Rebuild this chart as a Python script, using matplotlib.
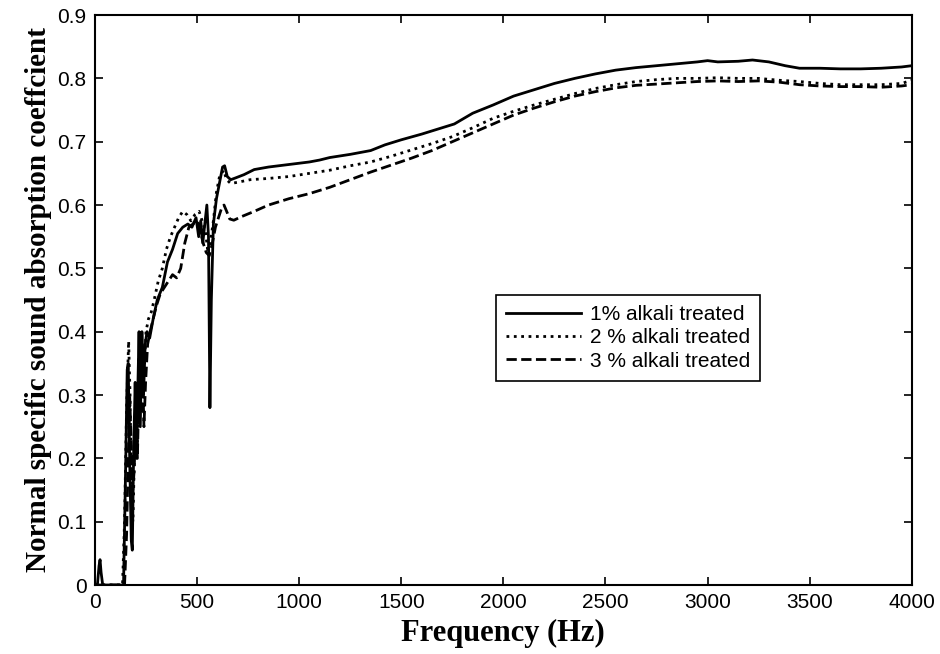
import matplotlib
matplotlib.use('Agg')

import numpy as np
import matplotlib.pyplot as plt

################# Data ####################################################
freq_1 = [0, 12, 20, 25, 30, 38, 140, 150, 158, 163, 170, 178, 183, 190, 197,
          204, 210, 216, 222, 230, 238, 246, 255, 268, 285, 305, 330, 355, 380,
          405, 430, 455, 475, 495, 508, 518, 528, 538, 548, 556, 563, 570, 580,
          595, 610, 625, 635, 648, 665, 690, 730, 780, 850, 900, 950, 1050,
          1100, 1150, 1250, 1350, 1420, 1500, 1600, 1700, 1760, 1850, 1950,
          2050, 2150, 2250, 2350, 2450, 2550, 2650, 2750, 2850, 2950, 3000,
          3050, 3150, 3220, 3300, 3380, 3450, 3550, 3650, 3750, 3850, 3950,
          4000]
alpha_1 = [0, 0, 0.03, 0.04, 0.02, 0, 0, 0.18, 0.34, 0.35, 0.20, 0.07, 0.055,
           0.22, 0.32, 0.20, 0.31, 0.40, 0.25, 0.40, 0.30, 0.38, 0.40, 0.39,
           0.42, 0.45, 0.47, 0.51, 0.53, 0.555, 0.565, 0.57, 0.565, 0.58, 0.55,
           0.575, 0.54, 0.57, 0.60, 0.55, 0.28, 0.45, 0.57, 0.61, 0.635, 0.66,
           0.662, 0.645, 0.64, 0.643, 0.648, 0.656, 0.66, 0.662, 0.664, 0.668,
           0.671, 0.675, 0.68, 0.686, 0.695, 0.703, 0.712, 0.722, 0.728, 0.745,
           0.758, 0.772, 0.782, 0.792, 0.80, 0.807, 0.813, 0.817, 0.82, 0.823,
           0.826, 0.828, 0.826, 0.827, 0.829, 0.826, 0.82, 0.816, 0.816,
           0.815, 0.815, 0.816, 0.818, 0.82]

freq_2 = [0, 135, 145, 155, 165, 172, 180, 186, 193, 200, 208, 215, 222, 230,
          240, 250, 262, 275, 290, 310, 330, 350, 370, 390, 410, 430, 450, 470,
          490, 510, 525, 540, 552, 565, 580, 595, 610, 630, 645, 665, 700, 760,
          850, 950, 1050, 1150, 1250, 1350, 1450, 1550, 1650, 1750, 1850, 1950,
          2050, 2150, 2250, 2350, 2450, 2550, 2650, 2750, 2850, 2950, 3050,
          3150, 3250, 3350, 3450, 3550, 3650, 3750, 3850, 3950, 4000]
alpha_2 = [0, 0, 0.10, 0.28, 0.385, 0.30, 0.12, 0.10, 0.20, 0.30, 0.22, 0.36,
           0.28, 0.38, 0.33, 0.40, 0.42, 0.43, 0.45, 0.48, 0.50, 0.53, 0.55,
           0.565, 0.58, 0.59, 0.585, 0.575, 0.585, 0.59, 0.575, 0.56, 0.53,
           0.54, 0.575, 0.62, 0.645, 0.655, 0.64, 0.634, 0.636, 0.64, 0.642,
           0.645, 0.65, 0.655, 0.662, 0.668, 0.677, 0.687, 0.697, 0.708, 0.722,
           0.737, 0.748, 0.758, 0.767, 0.776, 0.784, 0.79, 0.795, 0.798, 0.80,
           0.80, 0.801, 0.80, 0.80, 0.797, 0.795, 0.792, 0.79, 0.79, 0.79,
           0.792, 0.797]

freq_3 = [0, 145, 155, 163, 170, 178, 185, 192, 200, 208, 216, 224, 232, 240,
          248, 258, 270, 285, 300, 320, 340, 360, 380, 400, 420, 440, 460, 480,
          500, 515, 530, 545, 560, 575, 590, 605, 620, 632, 645, 660, 680, 720,
          780, 850, 950, 1050, 1150, 1250, 1350, 1450, 1550, 1650, 1750, 1850,
          1950, 2050, 2150, 2250, 2350, 2450, 2550, 2650, 2750, 2850, 2950,
          3050, 3150, 3250, 3350, 3450, 3550, 3650, 3750, 3850, 3950, 4000]
alpha_3 = [0, 0, 0.08, 0.20, 0.30, 0.22, 0.15, 0.18, 0.26, 0.20, 0.33, 0.27,
           0.35, 0.25, 0.32, 0.38, 0.40, 0.42, 0.44, 0.46, 0.47, 0.48, 0.49,
           0.485, 0.50, 0.54, 0.565, 0.57, 0.575, 0.56, 0.54, 0.525, 0.52,
           0.54, 0.565, 0.58, 0.595, 0.60, 0.59, 0.578, 0.576, 0.582, 0.59,
           0.60, 0.61, 0.618, 0.628, 0.64, 0.652, 0.663, 0.674, 0.686, 0.70,
           0.714, 0.728, 0.742, 0.753, 0.763, 0.772, 0.779, 0.785, 0.789,
           0.791, 0.793, 0.795, 0.796, 0.795, 0.796, 0.794, 0.79, 0.788, 0.787,
           0.787, 0.786, 0.788, 0.79]

labels  = ['1% alkali treated', '2 % alkali treated', '3 % alkali treated']
xticks  = np.arange(0, 4001, 500)
yticks  = np.arange(0, 0.91, 0.1)
############################################################################

plt.rcParams['font.family'] = 'Liberation Sans'

fig = plt.figure(figsize=(9.4, 6.54), dpi=100)
ax  = fig.add_axes([0.101, 0.1055, 0.869, 0.8715])

ax.plot(freq_1, alpha_1, 'k-',  lw=2.0, label=labels[0])
ax.plot(freq_2, alpha_2, 'k:',  lw=2.0, label=labels[1])
ax.plot(freq_3, alpha_3, 'k--', lw=2.0, label=labels[2])

ax.set_xlim(0, 4000)
ax.set_ylim(0, 0.9)
ax.set_xticks(xticks)
ax.set_yticks(yticks)
ax.set_xticklabels([str(v) for v in xticks])
ax.set_yticklabels(['0'] + ['%.1f' % v for v in yticks[1:]])
ax.tick_params(direction='in', length=6, width=1.2, labelsize=15,
               top=True, right=True, pad=6)
for s in ax.spines.values():
  s.set_linewidth(1.5)

ax.set_xlabel('Frequency (Hz)', family='Liberation Serif', weight='bold',
              fontsize=22, labelpad=5)
ax.set_ylabel('Normal specific sound absorption coeffcient',
              family='Liberation Serif', weight='bold', fontsize=21, labelpad=4)

leg = ax.legend(loc='upper left', bbox_to_anchor=(0.491, 0.509),
                borderaxespad=0, fontsize=15, handlelength=3.6,
                handletextpad=0.4, labelspacing=0.2, borderpad=0.5,
                fancybox=False, framealpha=1, edgecolor='black')
leg.get_frame().set_linewidth(1.2)

fig.savefig('out.png', dpi=100)
